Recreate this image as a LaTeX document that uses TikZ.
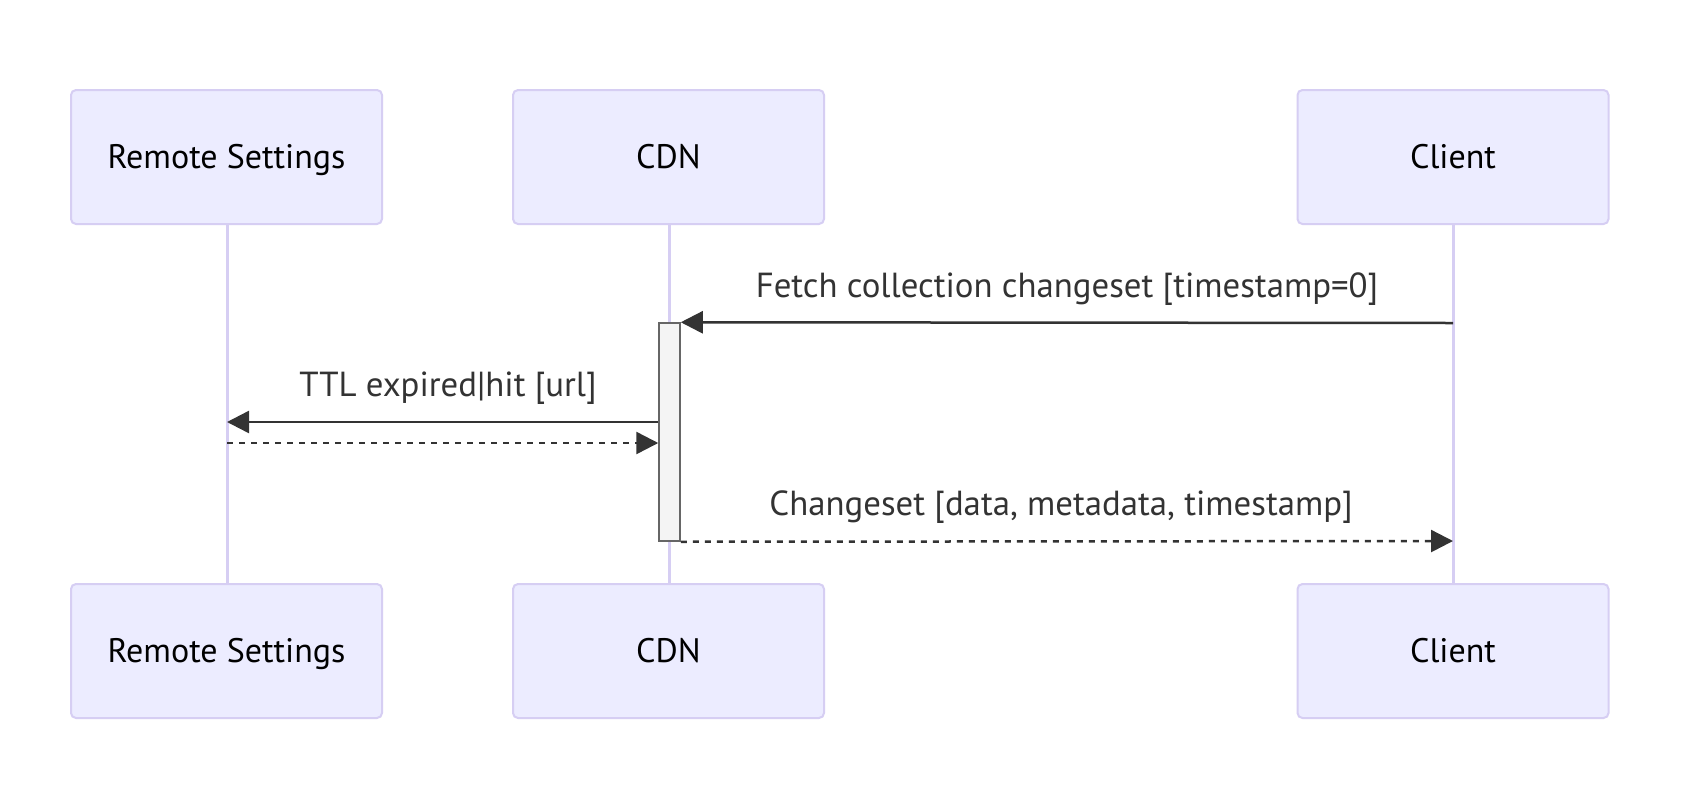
\documentclass[tikz,border=0pt]{standalone}
\usepackage{fontspec}
\setmainfont{PT Sans}
\usepackage{tikz}
\usetikzlibrary{arrows.meta}
\definecolor{actorfill}{RGB}{236,236,255}
\definecolor{actorline}{RGB}{214,206,243}
\definecolor{msgdark}{RGB}{51,51,51}
\definecolor{actfill}{RGB}{244,244,244}
\definecolor{actline}{RGB}{102,102,102}
\tikzset{%
    actor/.style={%
        draw=actorline, line width=1pt, fill=actorfill, rounded corners=2.5pt,
        minimum width=155.5pt, minimum height=67pt,
        text height=11.8pt, text depth=0pt, font=\fontsize{17}{20}\selectfont
    },
    lifeline/.style={draw=actorline, line width=1.5pt},
    msg/.style={draw=msgdark, line width=1.25pt, -{Triangle[length=11pt,width=11pt]}},
    reply/.style={msg, dash pattern=on 3pt off 3pt},
    msglabel/.style={anchor=base, text=msgdark, font=\fontsize{17.4}{20}\selectfont}
}
\begin{document}
\begin{tikzpicture}[x=0.5pt,y=-0.5pt]
    \useasboundingbox[fill=white] (0,0) rectangle (1690,798);
    % lifelines
    \foreach \name/\x in {rs/227,cdn/669,cl/1453}
    {
    \draw[lifeline] (\x,224) -- (\x,584);
    }
    % actors, top and bottom
    \node[actor] (rstop) at (226.5,157) {Remote Settings};
    \node[actor] (cdntop) at (668.5,157) {CDN};
    \node[actor] (cltop) at (1453,157) {Client};
    \node[actor] (rsbot) at (226.5,651) {Remote Settings};
    \node[actor] (cdnbot) at (668.5,651) {CDN};
    \node[actor] (clbot) at (1453,651) {Client};
    % activation on CDN
    \node[draw=actline, fill=actfill, line width=0.75pt, minimum width=10.5pt,
        minimum height=109pt, inner sep=0pt] (act) at (669.5,432) {};
    % message end points
    \coordinate (clA) at (1453,323);
    \coordinate (rsA) at (227,422);
    \coordinate (rsB) at (227,443);
    \coordinate (clB) at (1453,541);
    % messages
    \draw[msg] (clA) -- (act.north east);
    \node[msglabel] (fetch) at (1067,297) {Fetch collection changeset [timestamp=0]};
    \draw[msg] (act.west |- rsA) -- (rsA);
    \node[msglabel] (ttl) at (448,396) {TTL expired|hit [url]};
    \draw[reply] (rsB) -- (act.west |- rsB);
    \draw[reply] (act.south east) -- (clB);
    \node[msglabel] (chg) at (1061,515) {Changeset [data, metadata, timestamp]};
\end{tikzpicture}
\end{document}
